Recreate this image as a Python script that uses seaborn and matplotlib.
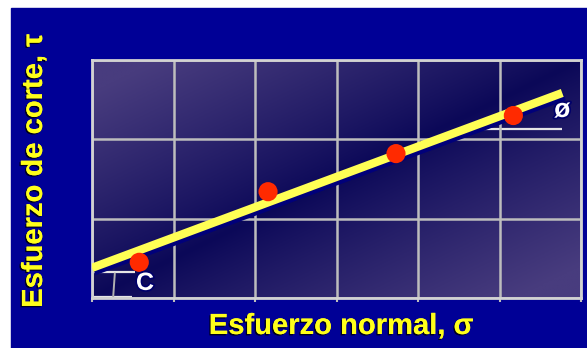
import numpy as np
import matplotlib
matplotlib.use("Agg")
import matplotlib.pyplot as plt
import matplotlib.patheffects as pe
from matplotlib.colors import LinearSegmentedColormap
import seaborn as sns
import pandas as pd

# ---- data ----
normal_stress = [0.58, 2.16, 3.73, 5.17]        # sigma (grid units)
shear_stress = [0.45, 1.34, 1.82, 2.30]         # tau (grid units)
envelope_x = [0.0, 5.77]                        # failure envelope
envelope_y = [0.38, 2.585]
x_label = "Esfuerzo normal, σ"
y_label = "Esfuerzo de corte, τ"
cohesion_label = "C"
friction_label = "ø"
x_grid = [0, 1, 2, 3, 4, 5, 6]
y_grid = [0, 1, 2, 3]

sns.set_theme(style="white")
plt.rcParams['font.family'] = ['Liberation Sans', 'DejaVu Sans']
plt.rcParams['font.weight'] = 'bold'

W, H = 587, 348
fig = plt.figure(figsize=(W / 100, H / 100), dpi=100)
fig.patch.set_facecolor("white")
# navy slide background (white margin on left/top)
fig.patches.append(plt.Rectangle((11 / W, 0), 1 - 11 / W, 1 - 8 / H,
                                 transform=fig.transFigure, color="#000096",
                                 zorder=-10))

ax = fig.add_axes([92 / W, 1 - 298 / H, (581 - 92) / W, (298 - 60) / H])
ax.set_xlim(x_grid[0], x_grid[-1])
ax.set_ylim(y_grid[0], y_grid[-1])

# diagonal gradient background
gx, gy = np.meshgrid(np.linspace(0, 1, 300), np.linspace(0, 1, 200))
t = np.clip(np.abs(gx - gy) * 1.15, 0, 1) ** 0.9
cmap = LinearSegmentedColormap.from_list("bg", ["#0b0858", "#483c7e"])
ax.imshow(t, cmap=cmap, origin="lower", aspect="auto",
          extent=[x_grid[0], x_grid[-1], y_grid[0], y_grid[-1]], zorder=0,
          interpolation="bilinear")

ax.set_xticks(x_grid)
ax.set_yticks(y_grid)
ax.set_xticklabels([])
ax.set_yticklabels([])
ax.grid(True, color="#bdbdbd", linewidth=1.8, zorder=1)
ax.set_axisbelow(False)
ax.tick_params(axis="x", length=3, width=1.5, color="#bdbdbd", direction="out",
               bottom=True)
ax.tick_params(axis="y", length=0)
for s in ax.spines.values():
    s.set_color("#d2d2d2")
    s.set_linewidth(2)
    s.set_zorder(3)

# annotation guide lines (white)
guide = dict(color="#e6e6e6", lw=1.6, zorder=2, solid_capstyle="butt")
ax.plot([0, 0.53], [0.33, 0.33], **guide)
ax.plot([0, 0.49], [0.015, 0.015], **guide)
ax.plot([0.28, 0.26], [0.31, 0.015], color="#b0b0b0", lw=1.4, zorder=2)
ax.plot([4.66, 5.77], [2.13, 2.13], **guide)

# failure envelope
env = pd.DataFrame({"x": envelope_x, "y": envelope_y})
sns.lineplot(data=env, x="x", y="y", ax=ax, color="#ffff55", linewidth=6,
             zorder=4, solid_capstyle="butt",
             path_effects=[pe.SimpleLineShadow(offset=(1.5, -2.5),
                                               shadow_color="#00007a", alpha=1),
                           pe.Normal()])

pts = pd.DataFrame({"sigma": normal_stress, "tau": shear_stress})
sns.scatterplot(data=pts, x="sigma", y="tau", ax=ax, color="#ff2a00", s=190,
                edgecolor="none", zorder=5)

ax.set_xlabel("")
ax.set_ylabel("")

outline = [pe.withStroke(linewidth=2.5, foreground="#00006a")]
ax.text(0.65, 0.19, cohesion_label, color="white", fontsize=18,
        fontweight="bold", ha="center", va="center", zorder=6,
        path_effects=outline)
ax.text(5.77, 2.37, friction_label, color="white", fontsize=19,
        fontweight="bold", ha="center", va="center", zorder=6,
        path_effects=outline)

shadow = [pe.withSimplePatchShadow(offset=(-1, -1), shadow_rgbFace="black",
                                   alpha=0.8), pe.Normal()]
fig.text(341 / W, 1 - 326 / H, x_label, color="#ffff1a", fontsize=21,
         fontweight="bold", ha="center", va="center", path_effects=shadow)
fig.text(34 / W, 1 - 171 / H, y_label, color="#ffff1a", fontsize=21,
         fontweight="bold", ha="center", va="center", rotation=90,
         path_effects=shadow)

fig.savefig("out.png", dpi=100)
